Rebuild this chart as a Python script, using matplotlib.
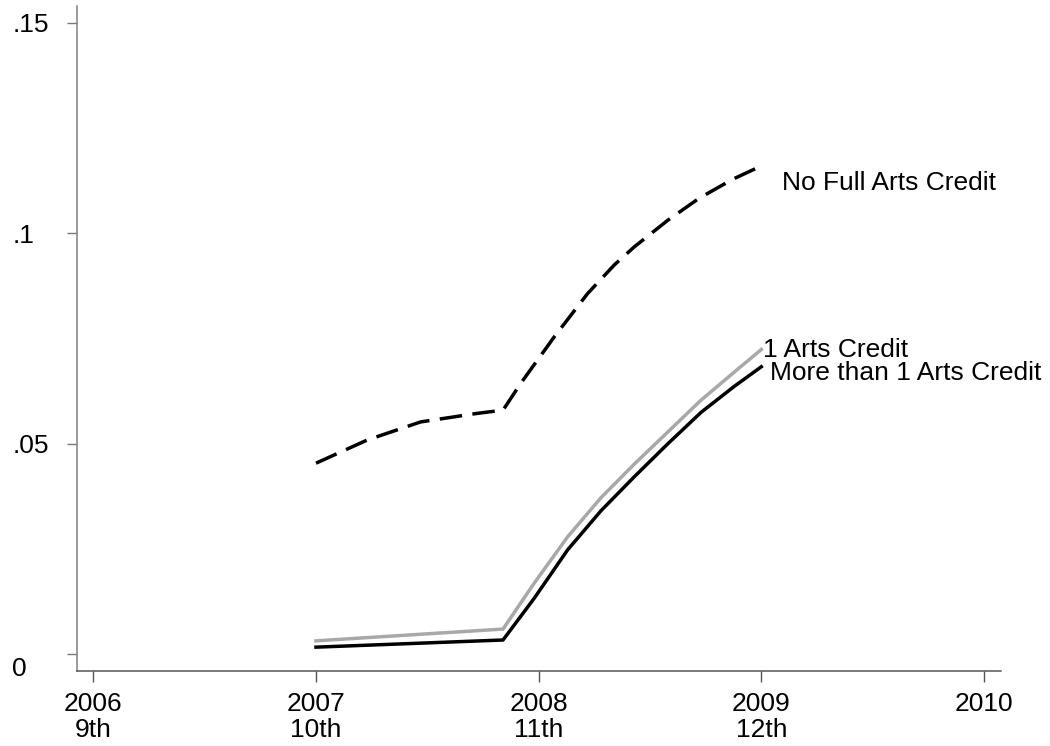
import matplotlib
matplotlib.use('Agg')
import matplotlib.pyplot as plt
import matplotlib.transforms as mtransforms

plt.rcParams['font.family'] = ['Liberation Sans', 'DejaVu Sans']

# Data
x_none = [2007.0, 2007.23, 2007.47, 2007.72, 2007.84, 2007.92, 2008.07, 2008.22,
          2008.34, 2008.43, 2008.58, 2008.72, 2008.87, 2009.0]
y_none = [0.0454, 0.0509, 0.0552, 0.0572, 0.0580, 0.0644, 0.0754, 0.0857,
          0.0925, 0.0968, 0.1031, 0.1083, 0.1128, 0.1160]

x_solid = [2007.0, 2007.84, 2007.98, 2008.13, 2008.28, 2008.43, 2008.58, 2008.73,
           2008.88, 2009.0]
y_one = [0.0032, 0.0060, 0.0169, 0.0279, 0.0372, 0.0452, 0.0528, 0.0604, 0.0671, 0.0724]
y_more = [0.0017, 0.0034, 0.0133, 0.0248, 0.0341, 0.0422, 0.0500, 0.0575, 0.0637, 0.0683]

xticks = [2006, 2007, 2008, 2009, 2010]
xlabels = ['2006\n9th', '2007\n10th', '2008\n11th', '2009\n12th', '2010']
yticks = [0, 0.05, 0.1, 0.15]
ylabels = ['0', '.05', '.1', '.15']

fig = plt.figure(figsize=(10.5, 7.46), dpi=100)
ax = fig.add_axes([0.073, 0.1005, 0.88, 0.8915])

l1, = ax.plot(x_none, y_none, color='black', lw=2.5)
l1.set_dashes([6.5, 3.0])
ax.plot(x_solid, y_one, color='#a8a8a8', lw=2.5, solid_joinstyle='round')
ax.plot(x_solid, y_more, color='black', lw=2.5, solid_joinstyle='round')

fs = 19
ax.annotate('No Full Arts Credit', xy=(x_none[-1], y_none[-1]), xytext=(15, -12),
            textcoords='offset points', fontsize=fs, va='center', ha='left')
ax.annotate('1 Arts Credit', xy=(x_solid[-1], y_one[-1]), xytext=(1, 0),
            textcoords='offset points', fontsize=fs, va='center', ha='left')
ax.annotate('More than 1 Arts Credit', xy=(x_solid[-1], y_more[-1]), xytext=(6.5, -4.8),
            textcoords='offset points', fontsize=fs, va='center', ha='left')

ax.set_xlim(2005.925, 2010.075)
ax.set_ylim(-0.00397, 0.154)

ax.set_xticks(xticks)
ax.set_xticklabels(xlabels, fontsize=fs, linespacing=1.12)
ax.set_yticks(yticks)
ax.set_yticklabels(ylabels, fontsize=fs, ha='left')

ax.tick_params(axis='x', length=8, width=1, color='#555555', pad=7)
ax.tick_params(axis='y', length=7.2, width=1, color='#777777', pad=39)

for s in ['top', 'right']:
    ax.spines[s].set_visible(False)
ax.spines['left'].set_color('#808080')
ax.spines['bottom'].set_color('#555555')
ax.spines['left'].set_linewidth(1.1)
ax.spines['bottom'].set_linewidth(1.1)

# the "0" label sits a bit lower than its tick
lab0 = ax.get_yticklabels()[0]
lab0.set_transform(lab0.get_transform() +
                   mtransforms.ScaledTranslation(0, -0.12, fig.dpi_scale_trans))

fig.savefig('out.png', dpi=100)
